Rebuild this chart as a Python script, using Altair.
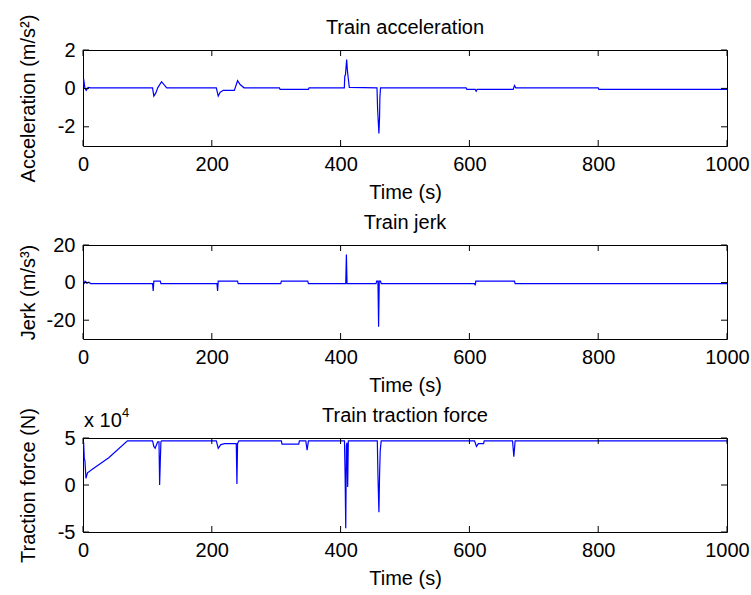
import altair as alt
import pandas as pd

# ---------------- data ----------------
x_ticks = [0, 200, 400, 600, 800, 1000]

acc_t = [0, 1, 3, 5, 8, 12, 108, 110, 113, 116, 122, 130, 207, 210, 213, 218, 235, 240,
         244, 250, 305, 306, 350, 351, 405.8, 406.5, 407.5, 409.4, 410.5, 412, 413.5,
         456.5, 457.5, 459.5, 460.5, 461, 462, 595, 596, 609, 610.5, 612, 668, 670, 672,
         800, 801, 1000]
acc_v = [0.1, 0.5, 0.0, -0.1, 0.05, 0.03, 0.03, -0.4, -0.25, 0.03, 0.35, 0.03, 0.03, -0.4,
         -0.2, -0.1, -0.1, 0.4, 0.2, 0.03, 0.03, -0.05, -0.05, 0.03, 0.03, 0.65, 0.7, 1.5,
         0.95, 0.5, 0.05, 0.03, -1.1, -2.35, -1.5, -0.5, 0.03, 0.03, -0.05, -0.05, -0.15,
         -0.05, -0.05, 0.15, 0.03, 0.03, -0.05, -0.05]
acc_ticks = [-2, 0, 2]

jerk_t = [0, 1, 2, 4, 6, 9, 12, 108, 109, 110, 120, 121, 208, 209, 210, 240, 241, 307, 308,
          349, 350, 408, 409, 410, 455, 456, 458, 459, 460, 462, 463, 608, 609, 610, 670,
          671, 1000]
jerk_v = [0.5, 1.2, -0.3, 0.6, -0.3, 0.2, -0.5, -0.5, -4.5, 0.8, 0.8, -0.5, -0.5, -4.5, 0.8,
          0.8, -0.5, -0.5, 0.8, 0.8, -0.5, -0.5, 15, -0.5, -0.5, 0.8, 0.8, -23.5, 0.8, 0.8,
          -0.5, -0.5, -1.5, 0.8, 0.8, -0.5, -0.5]
jerk_ticks = [-20, 0, 20]

force_t = [0, 1, 2, 3, 4.6, 7, 15, 40, 69, 108, 110, 112, 116, 118, 119, 120, 121, 122, 207,
           210, 214, 220, 238, 239, 240, 242, 308, 309, 335, 336, 346, 348, 350, 406, 407,
           408, 409, 410, 411, 412, 457, 458, 459.5, 460.5, 461.5, 463, 608, 611, 614, 622,
           623, 667, 669, 671, 1000]
force_v = [4.6, 4.5, 2.8, 2.6, 0.7, 1.3, 1.7, 2.9, 4.7, 4.7, 4.1, 3.9, 4.6, 4.6, 0.0, 2.5,
           4.6, 4.7, 4.7, 3.9, 4.3, 4.4, 4.4, 0.1, 4.4, 4.7, 4.7, 4.35, 4.35, 4.7, 4.7, 3.7,
           4.7, 4.7, 1.0, -4.6, 4.2, 4.5, -0.2, 4.7, 4.7, 1.0, -2.9, 1.0, 3.6, 4.7, 4.7, 4.1,
           4.4, 4.4, 4.7, 4.7, 3.0, 4.7, 4.7]
force_ticks = [-5, 0, 5]

titles = ["Train acceleration", "Train jerk", "Train traction force"]
y_titles = ["Acceleration (m/s\u00b2)", "Jerk (m/s\u00b3)", "Traction force (N)"]
x_title = "Time (s)"
exp_base = ["x 10"]
exp_power = ["4"]

W = 644
FONT = "Liberation Sans"
FS = 20
TL = 6  # inner tick length


def panel(ts, vs, ydomain, yticks, title, ytitle, height, extra=()):
    df = pd.DataFrame({"t": ts, "v": vs})
    xscale = alt.Scale(domain=[0, 1000], nice=False, zero=False)
    yscale = alt.Scale(domain=ydomain, nice=False, zero=False)
    xaxis = alt.Axis(values=x_ticks, title=x_title, ticks=False, tickSize=0,
                     domain=False, grid=False, labelPadding=8, titlePadding=8,
                     labelFlush=False, labelOverlap=False,
                     labelExpr="'' + datum.value")
    yaxis = alt.Axis(values=yticks, title=ytitle, ticks=False, tickSize=0,
                     domain=False, grid=False, labelPadding=8, titlePadding=8.5,
                     labelFlush=False, labelOverlap=False,
                     minExtent=36, maxExtent=36, labelExpr="'' + datum.value")
    line = alt.Chart(df).mark_line(color="#0000ff", strokeWidth=1.2, clip=True).encode(
        x=alt.X("t:Q", scale=xscale, axis=xaxis),
        y=alt.Y("v:Q", scale=yscale, axis=yaxis),
    )
    xt = pd.DataFrame({"t": x_ticks})
    yt = pd.DataFrame({"v": yticks})
    top = alt.Chart(xt).mark_rule(color="black", strokeWidth=1).encode(
        x=alt.X("t:Q", scale=xscale, axis=xaxis), y=alt.value(0), y2=alt.value(TL))
    bot = alt.Chart(xt).mark_rule(color="black", strokeWidth=1).encode(
        x=alt.X("t:Q", scale=xscale, axis=xaxis), y=alt.value(height - TL),
        y2=alt.value(height))
    left = alt.Chart(yt).mark_rule(color="black", strokeWidth=1).encode(
        y=alt.Y("v:Q", scale=yscale, axis=yaxis), x=alt.value(0), x2=alt.value(TL))
    right = alt.Chart(yt).mark_rule(color="black", strokeWidth=1).encode(
        y=alt.Y("v:Q", scale=yscale, axis=yaxis), x=alt.value(W - TL), x2=alt.value(W))
    ttl = alt.Chart(pd.DataFrame({"label": [title]})).mark_text(
        align="center", baseline="alphabetic", fontSize=FS, font=FONT, color="black"
    ).encode(text="label:N", x=alt.value(W / 2), y=alt.value(-16))
    layers = [line, top, bot, left, right, ttl] + list(extra)
    return alt.layer(*layers).properties(width=W, height=height)


exp_text = alt.Chart(pd.DataFrame({"label": exp_base})).mark_text(
    align="left", baseline="alphabetic", fontSize=FS, font=FONT, color="black"
).encode(text="label:N", x=alt.value(1), y=alt.value(-11))
exp_pow = alt.Chart(pd.DataFrame({"label": exp_power})).mark_text(
    align="left", baseline="alphabetic", fontSize=13, font=FONT, color="black"
).encode(text="label:N", x=alt.value(39), y=alt.value(-21))

p1 = panel(acc_t, acc_v, [-3, 2], acc_ticks, titles[0], y_titles[0], 96)
p2 = panel(jerk_t, jerk_v, [-30, 20], jerk_ticks, titles[1], y_titles[1], 94)
p3 = panel(force_t, force_v, [-5, 5], force_ticks, titles[2], y_titles[2], 94,
           extra=(exp_text, exp_pow))

chart = alt.vconcat(p1, p2, p3, spacing=99, bounds="flush").configure(
    padding={"left": 18, "top": 13, "right": 1, "bottom": 1}, background="white"
).configure_view(
    stroke="black", strokeWidth=1
).configure_axis(
    labelFont=FONT, labelFontSize=FS, labelColor="black",
    titleFont=FONT, titleFontSize=FS, titleColor="black", titleFontWeight="normal",
)

chart.save("out.html", embed_options={"renderer": "svg", "actions": False})
